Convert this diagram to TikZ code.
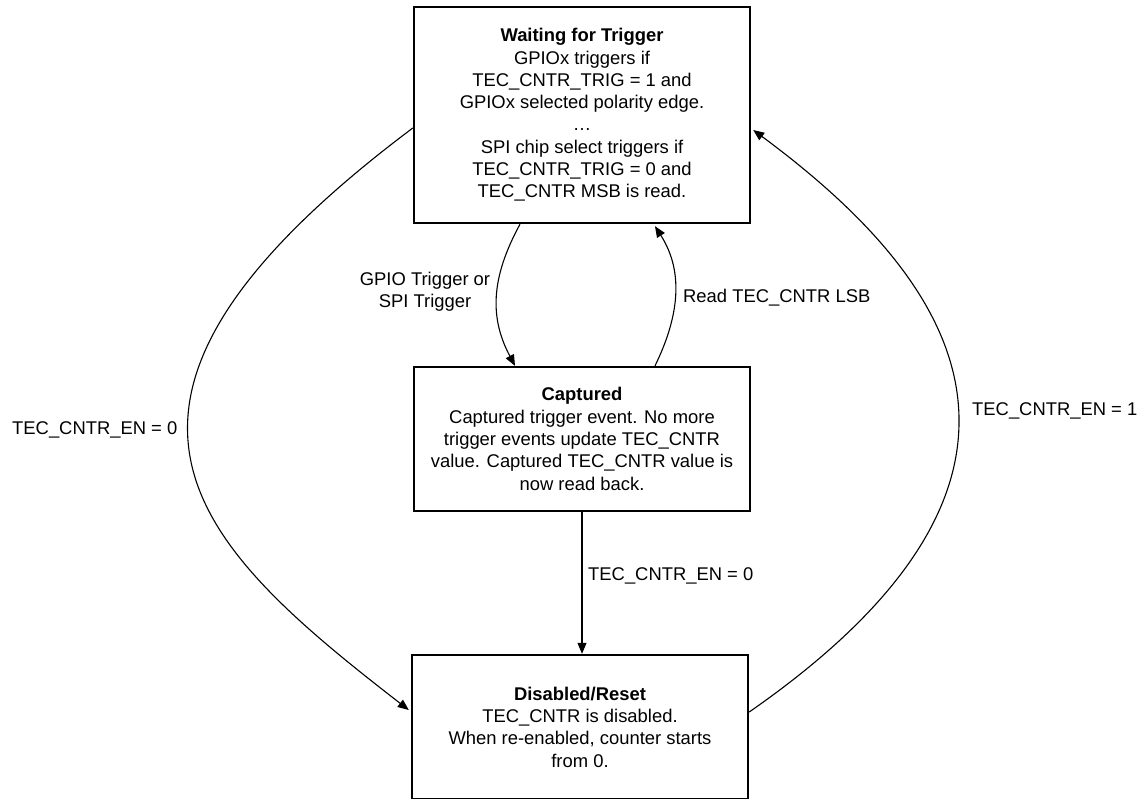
\documentclass[tikz,border=0pt]{standalone}
\usepackage{fontspec}
\setmainfont{Liberation Sans}
\usetikzlibrary{arrows.meta,calc}
\begin{document}
\begin{tikzpicture}[x=1pt,y=-1pt,
  every node/.style={font=\fontsize{18.4}{22.3}\selectfont, inner sep=0pt},
  statebox/.style={draw=black, line width=2.4pt, minimum width=336pt, align=center},
  conn/.style={draw=black, line width=1.1pt, -{Triangle[length=11pt,width=9pt]}},
  lbl/.style={anchor=base west},
]
\useasboundingbox (0,0) rectangle (1140,798);

\node[statebox, minimum height=216pt] (top) at (582,115)
  {\textbf{Waiting for Trigger}\\GPIOx triggers if\\TEC\_CNTR\_TRIG = 1 and\\GPIOx selected polarity edge.\\…\\SPI chip select triggers if\\TEC\_CNTR\_TRIG = 0 and\\TEC\_CNTR MSB is read.};

\node[statebox, minimum height=144pt] (capt) at (582,439)
  {\textbf{Captured}\\Captured trigger event. No more\\trigger events update TEC\_CNTR\\value. Captured TEC\_CNTR value is\\now read back.};

\node[statebox, minimum height=144pt] (dis) at (580,727)
  {\textbf{Disabled/Reset}\\TEC\_CNTR is disabled.\\When re-enabled, counter starts\\from 0.};

% inner transitions
\draw[conn] ($(top.south)+(-62,0)$) .. controls +(-30,55) and +(-25,-47) .. ($(capt.north)+(-67,0)$);
\draw[conn] ($(capt.north)+(73,0)$) .. controls +(23,-47) and +(30,47) .. ($(top.south)+(73,2)$);
\draw[conn] (capt.south) -- (capt.south |- dis.north);

% outer transitions
\draw[conn] ($(top.west)+(0,13)$) .. controls +(-368,276) and +(-217,-168) .. ($(dis.west)+(-2,-17)$);
\draw[conn] ($(dis.east)+(0,-15)$) .. controls +(344,-239) and +(200,148) .. ($(top.east)+(2,15)$);

% labels
\node[align=center] (lgpio) at (425,292) {GPIO Trigger or\\SPI Trigger};
\node[lbl] (lread) at (683,302) {Read TEC\_CNTR LSB};
\node[lbl] (lmid) at (588,580) {TEC\_CNTR\_EN = 0};
\node[lbl] (lleft) at (12,434) {TEC\_CNTR\_EN = 0};
\node[lbl] (lright) at (972,415) {TEC\_CNTR\_EN = 1};
\end{tikzpicture}
\end{document}
